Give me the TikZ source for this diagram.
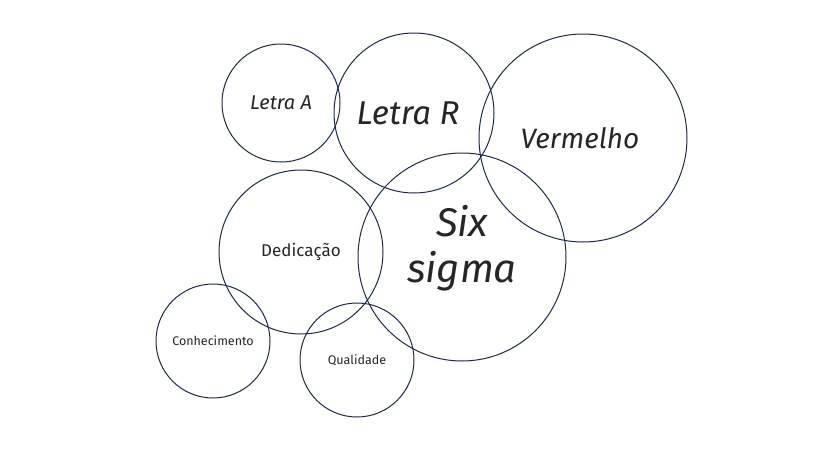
\documentclass[tikz,border=0pt]{standalone}
\usepackage{fontspec}
\setmainfont{Fira Sans}
\definecolor{navy}{HTML}{1B2A4A}
\tikzset{bubble/.style={circle, draw=navy, line width=1pt, inner sep=0pt, text=black!85, align=center}}
\begin{document}
\begin{tikzpicture}[x=1pt,y=-1pt]
    \useasboundingbox (0,0) rectangle (820,461);
    % bubbles
    \node[bubble, minimum size=208pt, font=\fontsize{28}{30}\selectfont\itshape\addfontfeature{FakeSlant=0}] (verm) at (583,138) {\kern-6pt Vermelho};
    \node[bubble, minimum size=160pt, font=\fontsize{33}{36}\selectfont\itshape] (letraR) at (414,113) {\kern-12pt Letra R};
    \node[bubble, minimum size=118pt, font=\fontsize{20}{22}\selectfont\itshape] (letraA) at (281,103) {Letra A};
    \node[bubble, minimum size=208pt, font=\fontsize{40}{46}\selectfont\itshape] (six) at (462,257) {Six\\sigma\\[-20pt]};
    \node[bubble, minimum size=164pt, font=\fontsize{17}{19}\selectfont] (dedic) at (301,252) {Dedicação};
    \node[bubble, minimum size=114pt, font=\fontsize{12.5}{14}\selectfont] (conh) at (213,341) {Conhecimento};
    \node[bubble, minimum size=114pt, font=\fontsize{12.5}{14}\selectfont] (qual) at (357,360) {Qualidade};
\end{tikzpicture}
\end{document}
